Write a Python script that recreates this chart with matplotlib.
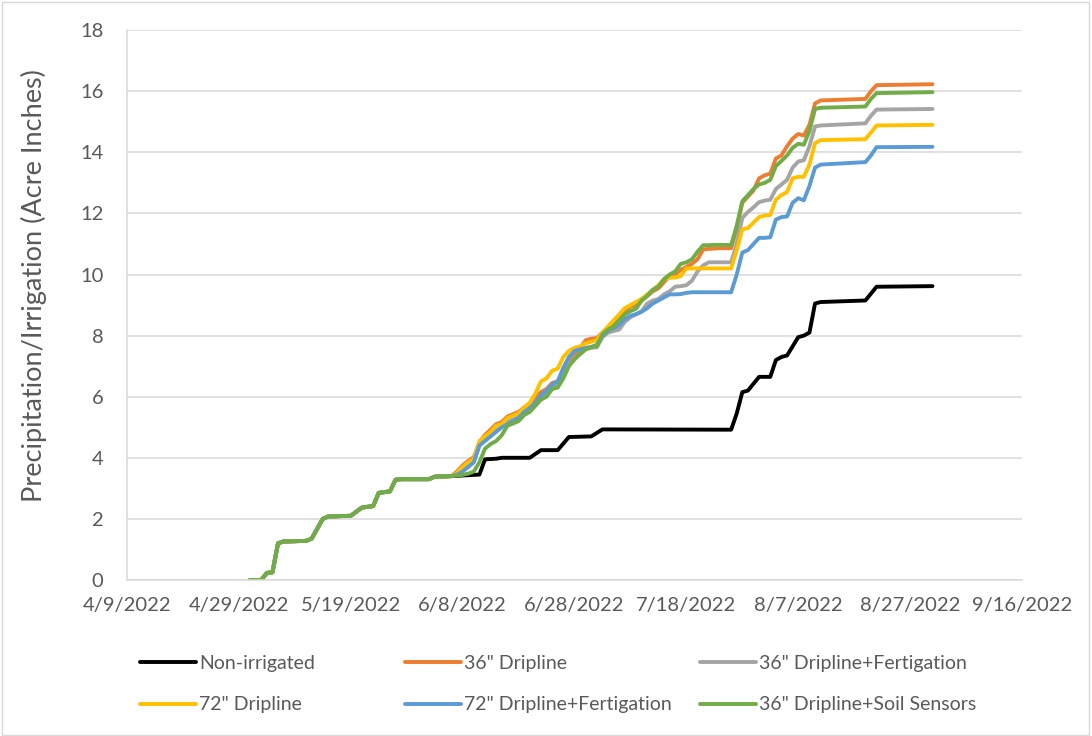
import matplotlib
matplotlib.use("Agg")
import matplotlib.pyplot as plt
from matplotlib.patches import Rectangle
from datetime import datetime, timedelta

YEAR = 2022

# Cumulative precipitation shared by every plot before irrigation began
early_dates = ["5/1", "5/3", "5/4", "5/5", "5/6", "5/7", "5/11", "5/12", "5/14", "5/15",
               "5/19", "5/21", "5/23", "5/24", "5/26", "5/27", "5/28", "6/2", "6/3", "6/6"]
early_vals = [0.0, 0.0, 0.23, 0.25, 1.2, 1.26, 1.28, 1.35, 2.0, 2.08,
              2.1, 2.37, 2.42, 2.85, 2.9, 3.28, 3.3, 3.3, 3.38, 3.4]

# Non-irrigated plot (rain only)
nonirr_dates = ["6/8", "6/11", "6/12", "6/14", "6/15", "6/20", "6/22", "6/25", "6/27", "7/1",
                "7/3", "7/26", "7/27", "7/28", "7/29", "7/31", "8/2", "8/3", "8/4", "8/5",
                "8/7", "8/8", "8/9", "8/10", "8/11", "8/19", "8/21", "8/31"]
nonirr_vals = [3.42, 3.45, 3.95, 3.97, 4.0, 4.0, 4.25, 4.25, 4.68, 4.7,
               4.93, 4.92, 5.45, 6.15, 6.2, 6.65, 6.65, 7.2, 7.3, 7.35,
               7.95, 8.0, 8.1, 9.05, 9.1, 9.15, 9.6, 9.62]

# Irrigated plots, daily from 6/7 to 8/11, then the late-August rain
irr_dates = ["6/7", "6/8", "6/9", "6/10", "6/11", "6/12", "6/13", "6/14", "6/15", "6/16",
             "6/17", "6/18", "6/19", "6/20", "6/21", "6/22", "6/23", "6/24", "6/25", "6/26",
             "6/27", "6/28", "6/29", "6/30", "7/1", "7/2", "7/3", "7/4", "7/5", "7/6",
             "7/7", "7/8", "7/9", "7/10", "7/11", "7/12", "7/13", "7/14", "7/15", "7/16",
             "7/17", "7/18", "7/19", "7/20", "7/21", "7/22", "7/23", "7/24", "7/25", "7/26",
             "7/27", "7/28", "7/29", "7/30", "7/31", "8/1", "8/2", "8/3", "8/4", "8/5",
             "8/6", "8/7", "8/8", "8/9", "8/10", "8/11", "8/19", "8/20", "8/21", "8/31"]

drip36 = [3.55, 3.75, 3.9, 4.02, 4.5, 4.75, 4.92, 5.1, 5.17, 5.35,
          5.43, 5.5, 5.65, 5.75, 5.95, 6.15, 6.25, 6.45, 6.5, 6.85,
          7.2, 7.35, 7.6, 7.85, 7.9, 7.92, 8.1, 8.25, 8.4, 8.6,
          8.8, 8.95, 9.0, 9.15, 9.3, 9.45, 9.55, 9.75, 9.95, 10.0,
          10.15, 10.25, 10.35, 10.5, 10.82, 10.84, 10.85, 10.86, 10.86, 10.86,
          11.5, 12.35, 12.55, 12.75, 13.15, 13.25, 13.3, 13.8, 13.9, 14.2,
          14.45, 14.6, 14.55, 14.9, 15.6, 15.7, 15.75, 16.0, 16.2, 16.23]

drip36_fert = [3.5, 3.65, 3.8, 3.9, 4.4, 4.6, 4.75, 4.9, 5.0, 5.2,
               5.25, 5.35, 5.5, 5.6, 5.8, 6.0, 6.1, 6.3, 6.35, 6.7,
               7.05, 7.25, 7.4, 7.55, 7.6, 7.62, 7.95, 8.1, 8.15, 8.2,
               8.45, 8.6, 8.7, 8.8, 9.05, 9.15, 9.2, 9.35, 9.45, 9.6,
               9.62, 9.65, 9.8, 10.1, 10.3, 10.4, 10.4, 10.4, 10.4, 10.4,
               11.0, 11.85, 12.05, 12.2, 12.37, 12.42, 12.45, 12.8, 12.95, 13.1,
               13.5, 13.7, 13.74, 14.2, 14.85, 14.88, 14.95, 15.2, 15.4, 15.42]

drip72 = [3.5, 3.7, 3.85, 3.95, 4.55, 4.7, 4.85, 5.05, 5.1, 5.3,
          5.38, 5.45, 5.65, 5.8, 6.1, 6.5, 6.6, 6.85, 6.92, 7.3,
          7.5, 7.6, 7.65, 7.75, 7.8, 7.85, 8.1, 8.3, 8.5, 8.7,
          8.9, 9.0, 9.1, 9.2, 9.35, 9.5, 9.65, 9.85, 9.9, 9.9,
          9.95, 10.2, 10.2, 10.2, 10.2, 10.2, 10.2, 10.2, 10.2, 10.2,
          10.8, 11.48, 11.52, 11.7, 11.88, 11.93, 11.95, 12.45, 12.6, 12.7,
          13.15, 13.2, 13.2, 13.6, 14.3, 14.4, 14.43, 14.65, 14.88, 14.9]

drip72_fert = [3.45, 3.55, 3.7, 3.85, 4.4, 4.55, 4.7, 4.85, 5.0, 5.1,
               5.2, 5.3, 5.5, 5.62, 5.8, 6.05, 6.2, 6.4, 6.5, 6.95,
               7.3, 7.5, 7.55, 7.6, 7.63, 7.7, 8.0, 8.15, 8.25, 8.35,
               8.55, 8.65, 8.7, 8.78, 8.9, 9.05, 9.15, 9.25, 9.35, 9.35,
               9.36, 9.4, 9.42, 9.42, 9.42, 9.42, 9.42, 9.42, 9.42, 9.42,
               10.0, 10.72, 10.8, 11.0, 11.2, 11.2, 11.22, 11.8, 11.88, 11.9,
               12.35, 12.5, 12.43, 12.9, 13.5, 13.6, 13.68, 13.9, 14.17, 14.18]

drip36_soil = [3.42, 3.44, 3.48, 3.55, 3.85, 4.3, 4.45, 4.55, 4.74, 5.05,
               5.12, 5.2, 5.4, 5.5, 5.7, 5.9, 6.0, 6.25, 6.3, 6.6,
               7.0, 7.22, 7.4, 7.55, 7.63, 7.65, 8.05, 8.2, 8.3, 8.5,
               8.7, 8.8, 8.88, 9.15, 9.3, 9.5, 9.6, 9.85, 10.0, 10.1,
               10.35, 10.4, 10.5, 10.75, 10.96, 10.96, 10.97, 10.97, 10.97, 10.96,
               11.6, 12.4, 12.6, 12.8, 12.95, 13.0, 13.1, 13.55, 13.72, 13.9,
               14.15, 14.28, 14.25, 14.7, 15.42, 15.46, 15.5, 15.75, 15.94, 15.97]

names = ["Non-irrigated", '36" Dripline', '36" Dripline+Fertigation',
         '72" Dripline', '72" Dripline+Fertigation', '36" Dripline+Soil Sensors']
colors = ["#000000", "#ED7D31", "#A5A5A5", "#FFC000", "#5B9BD5", "#70AD47"]


def to_dates(md):
    return [datetime.strptime(f"{s}/{YEAR}", "%m/%d/%Y") for s in md]


series = [
    (early_dates + nonirr_dates, early_vals + nonirr_vals),
    (early_dates + irr_dates, early_vals + drip36),
    (early_dates + irr_dates, early_vals + drip36_fert),
    (early_dates + irr_dates, early_vals + drip72),
    (early_dates + irr_dates, early_vals + drip72_fert),
    (early_dates + irr_dates, early_vals + drip36_soil),
]

plt.rcParams["font.family"] = ["Lato", "DejaVu Sans"]
text_color = "#595959"

fig = plt.figure(figsize=(10.92, 7.36), dpi=100)
ax = fig.add_axes([0.1163, 0.212, 0.8196, 0.747])

handles = []
for (d, v), name, c in zip(series, names, colors):
    h, = ax.plot(to_dates(d), v, color=c, lw=2.8, label=name,
                 solid_joinstyle="round", solid_capstyle="round")
    handles.append(h)

start = datetime(YEAR, 4, 9)
ticks = [start + timedelta(days=20 * i) for i in range(9)]
ax.set_xlim(ticks[0], ticks[-1])
ax.set_xticks(ticks)
ax.set_xticklabels([f"{t.month}/{t.day}/{t.year}" for t in ticks])
ax.set_ylim(0, 18)
ax.set_yticks(range(0, 19, 2))

ax.grid(axis="y", color="#D9D9D9", lw=1.1)
ax.set_axisbelow(True)
for s in ["top", "right"]:
    ax.spines[s].set_visible(False)
ax.spines["left"].set_color("#D9D9D9")
ax.spines["bottom"].set_color("#D9D9D9")
ax.spines["left"].set_linewidth(1.1)
ax.spines["bottom"].set_linewidth(1.1)

ax.tick_params(axis="both", length=0, labelsize=14.5, colors=text_color)
ax.tick_params(axis="y", pad=17)
ax.tick_params(axis="x", pad=12)

ax.set_ylabel("Precipitation/Irrigation (Acre Inches)", fontsize=19.5, color=text_color)
ax.yaxis.set_label_coords(-0.089, 0.536)

# legend: three columns, two rows, laid out like the spreadsheet version
col_x = [140 / 1092, 405 / 1092, 700 / 1092]
for i, x in enumerate(col_x):
    leg = fig.legend([handles[i], handles[i + 3]], [names[i], names[i + 3]],
                     loc="upper left", bbox_to_anchor=(x, 1 - 655 / 736),
                     frameon=False, fontsize=14, handlelength=2.9,
                     handletextpad=0.15, labelspacing=1.25, borderpad=0,
                     borderaxespad=0)
    for t in leg.get_texts():
        t.set_color(text_color)

fig.patches.append(Rectangle((0.002, 0.002), 0.995, 0.995, transform=fig.transFigure,
                             fill=False, edgecolor="#D9D9D9", lw=1))

fig.savefig("out.png", dpi=100)
